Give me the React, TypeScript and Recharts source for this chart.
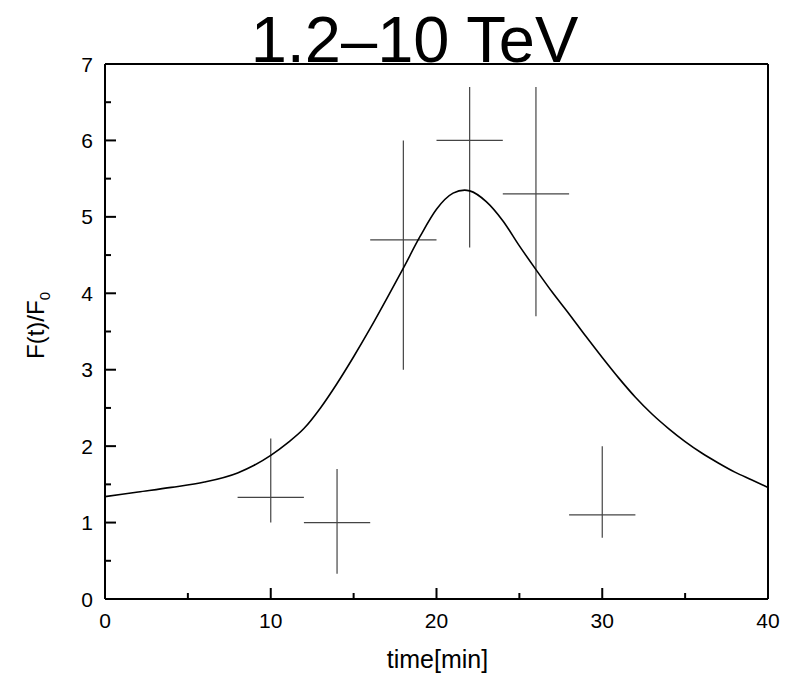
import React from "react";
import {
  ComposedChart,
  ErrorBar,
  Label,
  Line,
  Scatter,
  XAxis,
  YAxis,
} from "recharts";

// model light curve
const curveT = [
  0, 2, 4, 6, 8, 9, 10, 11, 12, 13, 14, 15, 16, 17, 18, 19, 20, 21, 21.7, 22,
  23, 24, 25, 26, 27, 28, 29, 30, 31, 32, 33, 34, 35, 36, 37, 38, 39, 40,
];
const curveV = [
  1.34, 1.4, 1.46, 1.53, 1.65, 1.75, 1.88, 2.04, 2.23, 2.5, 2.82, 3.17, 3.54,
  3.93, 4.33, 4.74, 5.1, 5.31, 5.35, 5.34, 5.2, 4.95, 4.62, 4.31, 4.01, 3.73,
  3.44, 3.16, 2.89, 2.64, 2.42, 2.23, 2.06, 1.91, 1.78, 1.66, 1.56, 1.46,
];

// measured points with error crosses
const pointT = [10, 14, 18, 22, 26, 30];
const pointV = [1.33, 1.0, 4.7, 6.0, 5.3, 1.1];
const pointLo = [1.0, 0.33, 3.0, 4.6, 3.7, 0.8];
const pointHi = [2.1, 1.7, 6.0, 6.7, 6.7, 2.0];
const pointHalfBin = [2, 2, 2, 2, 2, 2];

const xTicks = [0, 5, 10, 15, 20, 25, 30, 35, 40];
const yTicks = [0, 0.5, 1, 1.5, 2, 2.5, 3, 3.5, 4, 4.5, 5, 5.5, 6, 6.5, 7];

const curve = curveT.map((t, i) => ({ t, v: curveV[i] }));
const points = pointT.map((t, i) => ({
  t,
  v: pointV[i],
  xErr: [pointHalfBin[i], pointHalfBin[i]],
  yErr: [pointV[i] - pointLo[i], pointHi[i] - pointV[i]],
}));

const FONT = "'Liberation Sans', Arial, Helvetica, sans-serif";
const MAJOR = 11;
const MINOR = 6;

const isMajorX = (v: number) => v % 10 === 0;
const isMajorY = (v: number) => v % 1 === 0;

function BottomTick(props: any) {
  const { x, y, payload } = props;
  const v = payload.value;
  const major = isMajorX(v);
  return (
    <g>
      <line x1={x} y1={y} x2={x} y2={y - (major ? MAJOR : MINOR)} stroke="#000" strokeWidth={2} />
      {major && (
        <text x={x} y={y + 29} textAnchor="middle" fontSize={21} fontFamily={FONT} fill="#000">
          {v}
        </text>
      )}
    </g>
  );
}

function TopTick(props: any) {
  const { x, y, payload } = props;
  const major = isMajorX(payload.value);
  return (
    <line x1={x} y1={y} x2={x} y2={y + (major ? MAJOR : MINOR)} stroke="#000" strokeWidth={2} />
  );
}

function LeftTick(props: any) {
  const { x, y, payload } = props;
  const v = payload.value;
  const major = isMajorY(v);
  return (
    <g>
      <line x1={x} y1={y} x2={x + (major ? MAJOR : MINOR)} y2={y} stroke="#000" strokeWidth={2} />
      {major && (
        <text x={x - 12} y={y + 7.5} textAnchor="end" fontSize={21} fontFamily={FONT} fill="#000">
          {v}
        </text>
      )}
    </g>
  );
}

function RightTick(props: any) {
  const { x, y, payload } = props;
  const major = isMajorY(payload.value);
  return (
    <line x1={x} y1={y} x2={x - (major ? MAJOR : MINOR)} y2={y} stroke="#000" strokeWidth={2} />
  );
}

function TitleLabel(props: any) {
  const vb = props.viewBox;
  return (
    <text x={vb.x + vb.width / 2 - 22} y={62} textAnchor="middle" fontSize={65} fontFamily={FONT} fill="#000">
      1.2–10 TeV
    </text>
  );
}

function XTitle(props: any) {
  const vb = props.viewBox;
  return (
    <text x={vb.x + vb.width / 2 + 1} y={668} textAnchor="middle" fontSize={25} fontFamily={FONT} fill="#000">
      time[min]
    </text>
  );
}

function YTitle(props: any) {
  const vb = props.viewBox;
  const cy = vb.y + vb.height / 2 - 6;
  return (
    <text
      transform={`translate(44, ${cy}) rotate(-90)`}
      textAnchor="middle"
      fontSize={24}
      fontFamily={FONT}
      fill="#000"
    >
      F(t)/F
      <tspan fontSize={15} dy={6}>
        0
      </tspan>
    </text>
  );
}

export default function App() {
  return (
    <div style={{ position: "absolute", left: 0, top: 0, background: "#fff" }}>
      <ComposedChart
        width={794}
        height={677}
        margin={{ top: 63, right: 25, bottom: 77, left: 104 }}
      >
        <XAxis
          xAxisId="b"
          dataKey="t"
          type="number"
          domain={[0, 40]}
          ticks={xTicks}
          interval={0}
          height={1}
          tickSize={0}
          tickMargin={0}
          tickLine={false}
          tick={BottomTick}
          axisLine={{ stroke: "#000", strokeWidth: 2 }}
        >
          <Label content={XTitle} />
        </XAxis>
        <XAxis
          xAxisId="top"
          orientation="top"
          dataKey="t"
          type="number"
          domain={[0, 40]}
          ticks={xTicks}
          interval={0}
          height={1}
          tickSize={0}
          tickMargin={0}
          tickLine={false}
          tick={TopTick}
          axisLine={{ stroke: "#000", strokeWidth: 2 }}
        >
          <Label content={TitleLabel} />
        </XAxis>
        <YAxis
          yAxisId="l"
          type="number"
          domain={[0, 7]}
          ticks={yTicks}
          interval={0}
          width={1}
          tickSize={0}
          tickMargin={0}
          tickLine={false}
          tick={LeftTick}
          axisLine={{ stroke: "#000", strokeWidth: 2 }}
        >
          <Label content={YTitle} />
        </YAxis>
        <YAxis
          yAxisId="r"
          orientation="right"
          type="number"
          domain={[0, 7]}
          ticks={yTicks}
          interval={0}
          width={1}
          tickSize={0}
          tickMargin={0}
          tickLine={false}
          tick={RightTick}
          axisLine={{ stroke: "#000", strokeWidth: 2 }}
        />
        <Scatter
          xAxisId="b"
          yAxisId="l"
          data={points}
          dataKey="v"
          shape={() => <g />}
          isAnimationActive={false}
        >
          <ErrorBar dataKey="xErr" direction="x" width={0} stroke="#444" strokeWidth={1.2} isAnimationActive={false} />
          <ErrorBar dataKey="yErr" direction="y" width={0} stroke="#444" strokeWidth={1.2} isAnimationActive={false} />
        </Scatter>
        <Line
          xAxisId="b"
          yAxisId="l"
          data={curve}
          dataKey="v"
          type="monotone"
          dot={false}
          activeDot={false}
          stroke="#000"
          strokeWidth={1.6}
          isAnimationActive={false}
        />
      </ComposedChart>
    </div>
  );
}
